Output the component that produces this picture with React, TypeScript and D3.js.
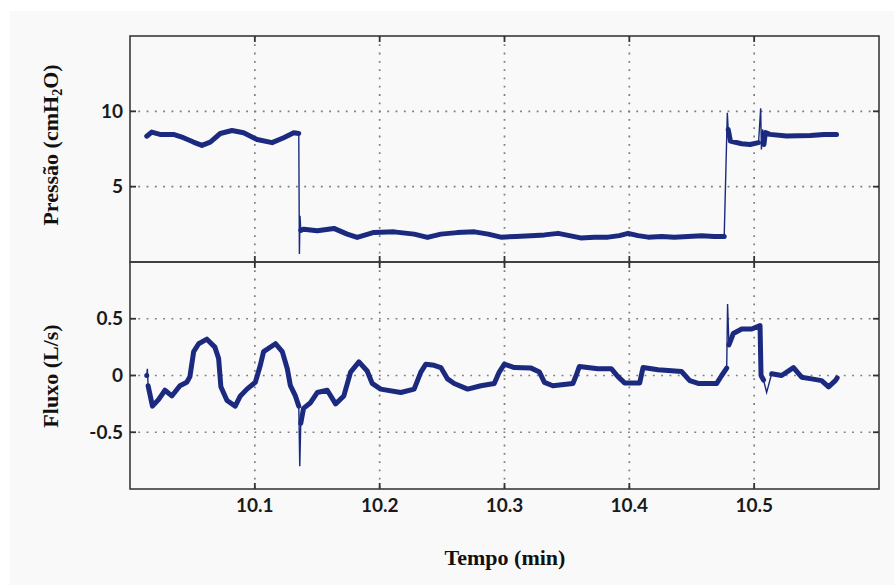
import React from "react";
import * as d3 from "d3";

// ---- Data ----
const xTicks = [10.1, 10.2, 10.3, 10.4, 10.5];
const pressureTicks = [5, 10];
const flowTicks = [-0.5, 0, 0.5];

// Pressure (cmH2O) vs time (min)
const pressureTime = [
  10.0134, 10.0174, 10.024, 10.0348, 10.0428, 10.0508, 10.0576, 10.0643, 10.0723, 10.0817, 10.091,
  10.1018, 10.1138, 10.1231, 10.1312, 10.1352,
  10.1357, 10.1362, 10.1368, 10.1392, 10.150, 10.1633, 10.174, 10.182, 10.1954, 10.2115, 10.2276,
  10.2383, 10.249, 10.262, 10.276, 10.287, 10.297, 10.309, 10.321, 10.332, 10.343, 10.352, 10.361,
  10.372, 10.383, 10.392, 10.399, 10.407, 10.415, 10.426, 10.436, 10.447, 10.458, 10.468, 10.476,
  10.4785, 10.4792, 10.481, 10.490, 10.4967, 10.5035,
  10.5052, 10.5058, 10.5068, 10.5078, 10.509, 10.5125, 10.526, 10.545, 10.556, 10.566,
];
const pressureValue = [
  8.35, 8.62, 8.47, 8.47, 8.25, 7.96, 7.74, 7.96, 8.53, 8.73, 8.58,
  8.13, 7.92, 8.25, 8.58, 8.53,
  0.53, 3.06, 2.1, 2.18, 2.07, 2.23, 1.85, 1.63, 1.96, 2.0, 1.85,
  1.63, 1.85, 1.95, 2.0, 1.85, 1.65, 1.7, 1.75, 1.8, 1.9, 1.75, 1.6,
  1.65, 1.65, 1.75, 1.9, 1.75, 1.65, 1.7, 1.65, 1.7, 1.75, 1.7, 1.7,
  9.9, 8.8, 8.02, 7.85, 7.8, 7.92,
  10.2, 7.47, 8.8, 7.8, 8.6, 8.47, 8.36, 8.4, 8.47, 8.47,
];
const pressureSpikes = [10.1357, 10.1362, 10.4785, 10.5052, 10.5058, 10.5068];

// Flow (L/s) vs time (min)
const flowTime = [
  10.0134, 10.0139, 10.0145, 10.018, 10.023, 10.028, 10.0335, 10.040, 10.0455, 10.048, 10.051, 10.055,
  10.0616, 10.068, 10.071, 10.0728, 10.0777, 10.0843, 10.0884, 10.0937, 10.1004, 10.1044, 10.107,
  10.1165, 10.122, 10.126, 10.1285, 10.1325, 10.1352, 10.136, 10.1368, 10.139, 10.1446, 10.150,
  10.158, 10.1647, 10.1713, 10.1767, 10.1834, 10.190, 10.194, 10.2008, 10.2169, 10.2276, 10.233,
  10.237, 10.2436, 10.249, 10.2544, 10.2597, 10.2705, 10.2811, 10.2918, 10.2958, 10.2999, 10.3079,
  10.3213, 10.328, 10.332, 10.3387, 10.3548, 10.3574, 10.360, 10.3748, 10.3855, 10.3909, 10.3962,
  10.4083, 10.411, 10.423, 10.4418, 10.4484, 10.4552, 10.470, 10.474, 10.478, 10.4787, 10.4798,
  10.4833, 10.490, 10.498, 10.5047, 10.5055, 10.5075, 10.510, 10.514, 10.522, 10.5315, 10.538,
  10.546, 10.554, 10.5596, 10.565, 10.5665,
];
const flowValue = [
  0.0, 0.06, -0.09, -0.27, -0.21, -0.13, -0.18, -0.09, -0.06, -0.01, 0.21, 0.28,
  0.32, 0.25, 0.15, -0.1, -0.22, -0.27, -0.18, -0.12, -0.06, 0.09, 0.21,
  0.28, 0.21, 0.06, -0.09, -0.18, -0.27, -0.8, -0.42, -0.29, -0.24, -0.15,
  -0.13, -0.25, -0.18, 0.03, 0.12, 0.04, -0.07, -0.12, -0.15, -0.12, 0.03,
  0.1, 0.09, 0.07, -0.03, -0.07, -0.12, -0.09, -0.07, 0.03, 0.1, 0.07,
  0.065, 0.03, -0.06, -0.09, -0.07, 0.0, 0.08, 0.06, 0.06, -0.01, -0.065,
  -0.065, 0.07, 0.05, 0.035, -0.045, -0.07, -0.07, 0.0, 0.065, 0.63, 0.27,
  0.37, 0.41, 0.41, 0.44, 0.0, -0.04, -0.15, 0.015, 0.0, 0.07, -0.015,
  -0.03, -0.045, -0.1, -0.045, -0.02,
];
const flowSpikes = [10.0139, 10.136, 10.4787, 10.510];

const W = 896;
const H = 585;
const left = 130;
const right = 879;
const topA = 36;
const midY = 262;
const botB = 489;

const LINE = "#1b2a7f";

type Pt = { t: number; v: number; spike: boolean };

function Panel({
  times, values, spikes, domain, ticks, y0, y1, fmt,
}: {
  times: number[]; values: number[]; spikes: number[]; domain: [number, number];
  ticks: number[]; y0: number; y1: number; fmt: (v: number) => string;
}) {
  const x = d3.scaleLinear().domain([10, 10.6]).range([left, right]);
  const y = d3.scaleLinear().domain(domain).range([y1, y0]);
  const pts: Pt[] = times.map((t, i) => ({ t, v: values[i], spike: spikes.includes(t) }));
  const thin = d3.line<Pt>().x((d) => x(d.t)).y((d) => y(d.v));
  const thick = d3
    .line<Pt>()
    .defined((d) => !d.spike)
    .x((d) => x(d.t))
    .y((d) => y(d.v));
  return (
    <g>
      {/* grid */}
      {xTicks.map((t) => (
        <line key={"gx" + t} x1={x(t)} x2={x(t)} y1={y0} y2={y1} stroke="#7d7d7d" strokeWidth={1.7} strokeDasharray="1.8 6.5" />
      ))}
      {ticks.map((v) => (
        <line key={"gy" + v} x1={left} x2={right} y1={y(v)} y2={y(v)} stroke="#7d7d7d" strokeWidth={1.7} strokeDasharray="1.8 6.5" />
      ))}
      {/* data */}
      <path d={thin(pts) || ""} fill="none" stroke={LINE} strokeWidth={1.4} />
      <path d={thick(pts) || ""} fill="none" stroke={LINE} strokeWidth={5} strokeLinejoin="round" strokeLinecap="round" />
      {/* frame */}
      <rect x={left} y={y0} width={right - left} height={y1 - y0} fill="none" stroke="#3a3a3a" strokeWidth={1.6} />
      {/* tick marks */}
      {xTicks.map((t) => (
        <g key={"tx" + t}>
          <line x1={x(t)} x2={x(t)} y1={y0} y2={y0 + 6} stroke="#333" strokeWidth={1.8} />
          <line x1={x(t)} x2={x(t)} y1={y1} y2={y1 - 6} stroke="#333" strokeWidth={1.8} />
        </g>
      ))}
      {ticks.map((v) => (
        <g key={"ty" + v}>
          <line x1={left} x2={left + 6} y1={y(v)} y2={y(v)} stroke="#333" strokeWidth={1.8} />
          <line x1={right} x2={right - 6} y1={y(v)} y2={y(v)} stroke="#333" strokeWidth={1.8} />
          <text x={123} y={y(v)} dy="0.35em" textAnchor="end" fontFamily="Lato, 'Open Sans', sans-serif" fontWeight={700} fontSize={19} fill="#1a1a1a">
            {fmt(v)}
          </text>
        </g>
      ))}
    </g>
  );
}

export default function App() {
  const x = d3.scaleLinear().domain([10, 10.6]).range([left, right]);
  const fmtP = (v: number) => String(v);
  const fmtF = (v: number) => (v === 0 ? "0" : d3.format(".1f")(v).replace("−", "-"));
  const serif = "'Liberation Serif', 'Times New Roman', serif";
  return (
    <svg width={W} height={H} style={{ position: "absolute", left: 0, top: 0 }} xmlns="http://www.w3.org/2000/svg">
      <rect x={0} y={0} width={W} height={H} fill="#ffffff" />
      <rect x={10} y={11} width={884} height={H - 11} fill="#f9f9f9" />
      <Panel times={pressureTime} values={pressureValue} spikes={pressureSpikes} domain={[0, 15]} ticks={pressureTicks} y0={topA} y1={midY} fmt={fmtP} />
      <Panel times={flowTime} values={flowValue} spikes={flowSpikes} domain={[-1, 1]} ticks={flowTicks} y0={midY} y1={botB} fmt={fmtF} />
      {xTicks.map((t) => (
        <text key={"xl" + t} x={x(t)} y={512} textAnchor="middle" fontFamily="Lato, 'Open Sans', sans-serif" fontWeight={700} fontSize={19} fill="#1a1a1a">
          {t.toFixed(1)}
        </text>
      ))}
      <text transform="translate(58,145) rotate(-90)" textAnchor="middle" fontFamily={serif} fontWeight={700} fontSize={22} fill="#111">
        Pressão (cmH<tspan fontSize={14} dy={4}>2</tspan><tspan dy={-4}>O)</tspan>
      </text>
      <text transform="translate(58,376) rotate(-90)" textAnchor="middle" fontFamily={serif} fontWeight={700} fontSize={22} fill="#111">
        Fluxo (L/s)
      </text>
      <text x={505} y={565} textAnchor="middle" fontFamily={serif} fontWeight={700} fontSize={22} fill="#111">
        Tempo (min)
      </text>
    </svg>
  );
}
